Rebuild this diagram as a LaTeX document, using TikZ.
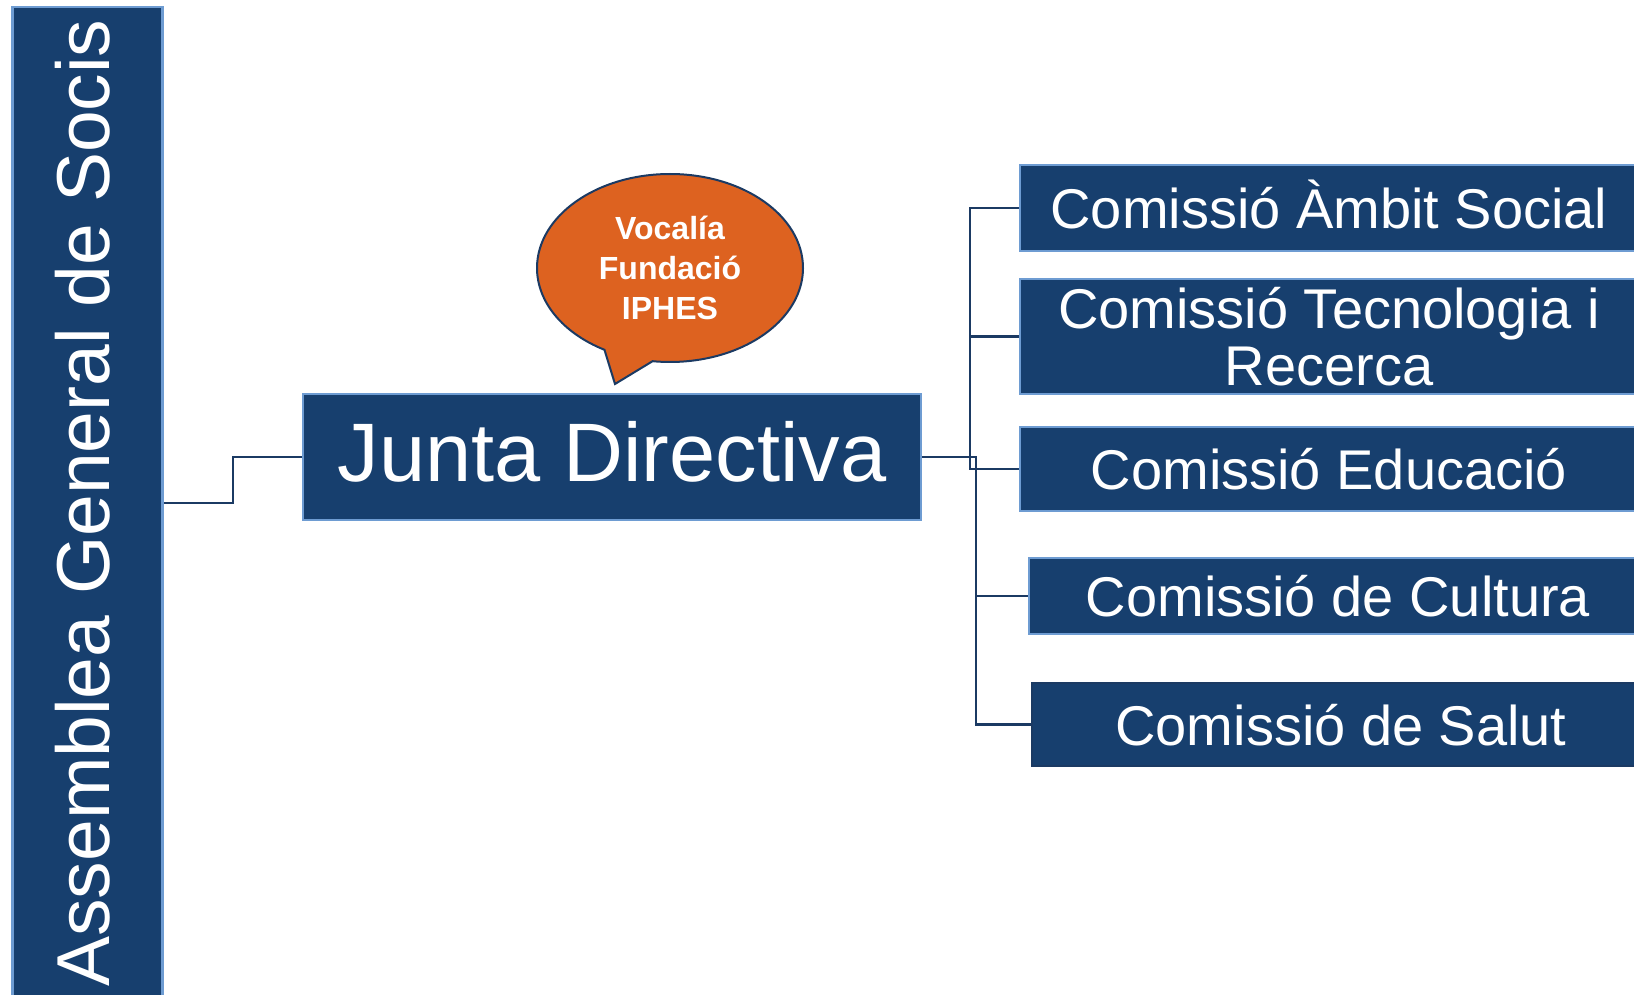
\documentclass[tikz,border=0pt]{standalone}
\usepackage{fontspec}
\setmainfont{Liberation Sans}
\usepackage{tikz}
\usetikzlibrary{positioning, calc, shapes.callouts}
\definecolor{SocisBlue}{HTML}{173F6E}
\definecolor{EdgeBlue}{HTML}{6E9CD2}
\definecolor{LineNavy}{HTML}{1B3A63}
\definecolor{IphesOrange}{HTML}{DD6220}

\tikzset{
    orgbox/.style={draw=EdgeBlue, fill=SocisBlue, line width=2.5pt, text=white, inner sep=0pt, align=center},
    comissio/.style={orgbox, minimum width=618, font=\fontsize{56}{57}\selectfont},
    linia/.style={text height=41, text depth=0},
    conn/.style={draw=LineNavy, line width=2.2pt}
}

\begin{document}
\begin{tikzpicture}[x=1pt, y=-1pt]
                    \useasboundingbox (0,0) rectangle (1634,995);
                    \clip (0,0) rectangle (1634,995);

                    \node[orgbox, rotate=90, minimum width=992, minimum height=150, text height=55, text depth=12, font=\fontsize{75}{75}\selectfont] (assemblea) at (87.5,503) {Assemblea General de Socis};

                    \node[orgbox, minimum width=618, minimum height=126, text height=60, text depth=12, font=\fontsize{83}{83}\selectfont] (junta) at (612,457) {Junta Directiva};

                    \node[ellipse callout, draw=LineNavy, fill=IphesOrange, line width=2pt, minimum width=266, minimum height=188, inner sep=0pt, callout absolute pointer={(615,384)}, callout pointer arc=22, text=white, align=center, font=\bfseries\fontsize{32}{40}\selectfont] (vocalia) at (670,268) {Vocalía\\Fundació\\IPHES};

                    \node[comissio, linia, minimum height=86] (ambit) at (1329,208) {Comissió Àmbit Social};
                    \node[comissio, minimum height=115] (tecno) at (1329,336.5) {Comissió Tecnologia i\\Recerca};
                    \node[comissio, linia, minimum height=84] (educacio) at (1329,469) {Comissió Educació};
                    \node[comissio, linia, minimum height=76] (cultura) at (1338,596) {Comissió de Cultura};
                    \node[comissio, linia, minimum height=83, draw=LineNavy] (salut) at (1341,724.5) {Comissió de Salut};

                    \draw[conn] (assemblea.south) -- ++(69,0) |- (junta.west);
                    \draw[conn] (ambit.west) -- ++(-49,0) |- (educacio.west);
                    \draw[conn] (tecno.west) -- ++(-49,0);
                    \draw[conn] (junta.east) -- ++(54,0) |- (salut.west);
                    \draw[conn] (cultura.west) -- ++(-53,0);
                \end{tikzpicture}
\end{document}
